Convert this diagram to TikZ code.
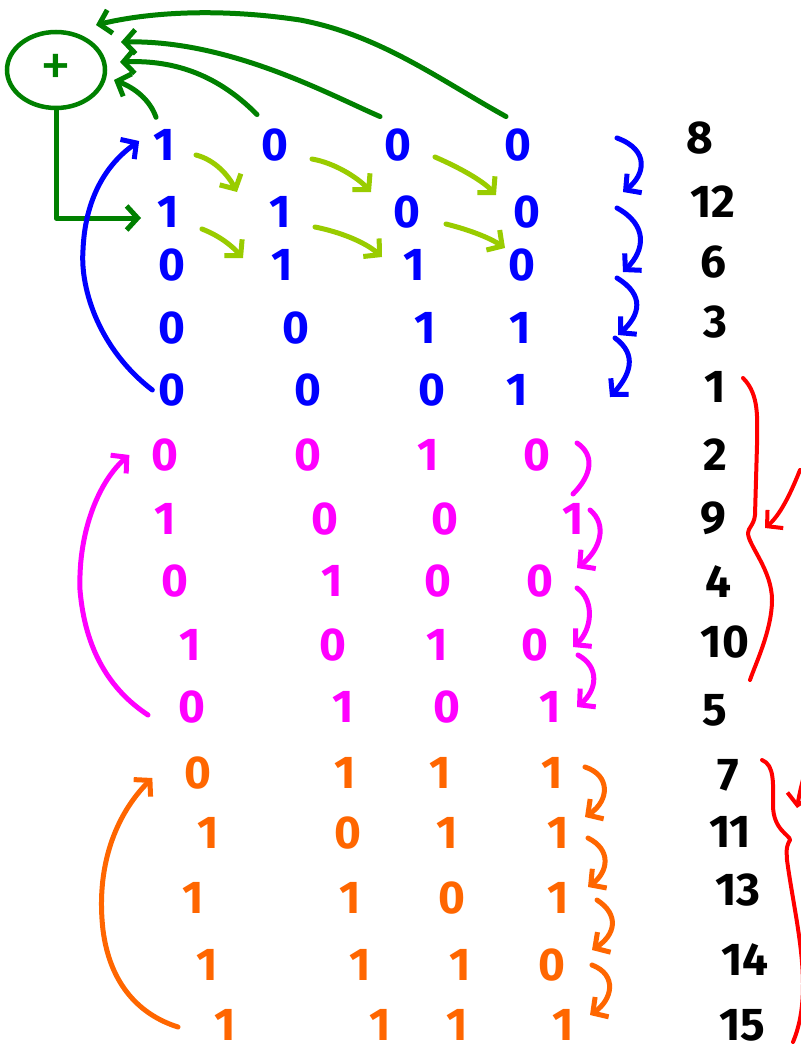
\documentclass[tikz,border=0pt]{standalone}
\usepackage{fontspec}
\newfontfamily\hand{Fira Sans}
\usetikzlibrary{arrows.meta,shapes.geometric}
\definecolor{cblue}{RGB}{0,0,255}
\definecolor{cgreen}{RGB}{0,128,0}
\definecolor{cyel}{RGB}{153,204,0}
\definecolor{cmag}{RGB}{255,0,255}
\definecolor{corange}{RGB}{255,102,0}
\definecolor{cred}{RGB}{255,0,0}
\tikzset{
  bit/.style={font=\hand\bfseries\fontsize{46}{46}\selectfont, inner sep=0pt},
  num/.style={bit, text=black},
  tip/.style={-{Straight Barb[length=11pt,width=24pt]}},
  con/.style={line width=5pt, line cap=round, line join=round},
}
\begin{document}
\begin{tikzpicture}[x=1pt,y=-1pt]
\useasboundingbox[fill=white] (0,0) rectangle (800,1051);

% XOR
\node[ellipse, draw=cgreen, line width=4.5pt, minimum width=98pt, minimum height=76pt, inner sep=0pt,
      font=\hand\fontsize{62}{62}\selectfont, text=cgreen] (xor) at (56,70) {+};

% blue rows
\foreach \r/\y/\a/\b/\c/\d/\xa/\xb/\xc/\xd in {
  1/145/1/0/0/0/164/275/398/518,
  2/212/1/1/0/0/168/280/407/527,
  3/265/0/1/1/0/172/282/414/522,
  4/328/0/0/1/1/172/296/425/520,
  5/390/0/0/0/1/172/308/432/517}{
  \node[bit,text=cblue] (d\r1) at (\xa,\y) {\a};
  \node[bit,text=cblue] (d\r2) at (\xb,\y) {\b};
  \node[bit,text=cblue] (d\r3) at (\xc,\y) {\c};
  \node[bit,text=cblue] (d\r4) at (\xd,\y) {\d};
}
% magenta rows
\foreach \r/\y/\a/\b/\c/\d/\xa/\xb/\xc/\xd in {
  6/455/0/0/1/0/165/308/428/537,
  7/519/1/0/0/1/165/325/445/573,
  8/581/0/1/0/0/175/332/438/540,
  9/645/1/0/1/0/190/333/437/535,
  10/707/0/1/0/1/192/343/447/550}{
  \node[bit,text=cmag] (d\r1) at (\xa,\y) {\a};
  \node[bit,text=cmag] (d\r2) at (\xb,\y) {\b};
  \node[bit,text=cmag] (d\r3) at (\xc,\y) {\c};
  \node[bit,text=cmag] (d\r4) at (\xd,\y) {\d};
}
% orange rows
\foreach \r/\y/\a/\b/\c/\d/\xa/\xb/\xc/\xd in {
  11/773/0/1/1/1/198/345/440/552,
  12/833/1/0/1/1/208/348/447/558,
  13/898/1/1/0/1/193/350/452/558,
  14/965/1/1/1/0/207/360/460/552,
  15/1025/1/1/1/1/225/380/457/563}{
  \node[bit,text=corange] (d\r1) at (\xa,\y) {\a};
  \node[bit,text=corange] (d\r2) at (\xb,\y) {\b};
  \node[bit,text=corange] (d\r3) at (\xc,\y) {\c};
  \node[bit,text=corange] (d\r4) at (\xd,\y) {\d};
}
% state numbers
\foreach \r/\x/\y/\t in {1/700/138/8, 2/713/202/12, 3/713/262/6, 4/715/322/3, 5/715/387/1,
  6/715/455/2, 7/713/518/9, 8/718/582/4, 9/725/642/10, 10/715/710/5,
  11/728/775/7, 12/730/832/11, 13/738/890/13, 14/745/960/14, 15/742/1025/15}{
  \node[num] (n\r) at (\x,\y) {\t};
}

% green feedback taps
\coordinate (t1) at (114,80);
\coordinate (t2) at (120,62);
\coordinate (t3) at (121,42);
\coordinate (t4) at (96,25);
\coordinate (fb) at (141,218);
\begin{scope}[con, draw=cgreen]
\draw[tip] ([xshift=-8pt,yshift=12pt]d11.north) .. controls (150,100) and (135,88) .. (t1);
\draw[tip] ([xshift=-18pt,yshift=14pt]d12.north) .. controls (215,72) and (170,60) .. (t2);
\draw[tip] ([xshift=-18pt,yshift=12pt]d13.north) .. controls (330,95) and (230,40) .. (t3);
\draw[tip] ([xshift=-12pt,yshift=12pt]d14.north) .. controls (440,80) and (380,35) .. (300,20)
      .. controls (220,8) and (150,12) .. (t4);
\draw[tip] (xor.south) |- (fb);
\end{scope}

% yellow-green shifts
\begin{scope}[con, draw=cyel]
\draw[tip] (196,155) .. controls (215,160) and (228,175) .. (237,192);
\draw[tip] (312,159) .. controls (335,163) and (358,178) .. (371,192);
\draw[tip] (435,157) .. controls (458,167) and (482,180) .. (496,195);
\draw[tip] (202,229) .. controls (220,236) and (232,246) .. (243,258);
\draw[tip] (315,227) .. controls (340,232) and (365,242) .. (382,257);
\draw[tip] (446,224) .. controls (470,230) and (490,238) .. (505,248);
\end{scope}

% blue
\begin{scope}[con, draw=cblue]
\draw[tip] ([xshift=-6pt]d51.west) .. controls (100,350) and (80,290) .. (83,250)
      .. controls (85,200) and (105,165) .. ([xshift=-14pt,yshift=4pt]d11.west);
\draw[tip] (617,138) .. controls (650,150) and (645,175) .. (623,192);
\draw[tip] (617,208) .. controls (648,225) and (645,250) .. (623,272);
\draw[tip] (617,278) .. controls (645,295) and (640,315) .. (618,335);
\draw[tip] (615,338) .. controls (638,355) and (630,375) .. (610,397);
\end{scope}

% magenta
\begin{scope}[con, draw=cmag]
\draw[tip] (148,715) .. controls (110,690) and (85,650) .. (80,590)
      .. controls (78,530) and (100,480) .. ([xshift=-22pt]d61.west);
\draw (577,443) .. controls (595,455) and (592,475) .. (573,494);
\draw[tip] (590,510) .. controls (608,525) and (600,550) .. (577,568);
\draw[tip] (577,588) .. controls (595,600) and (592,630) .. (573,647);
\draw[tip] (578,655) .. controls (600,667) and (597,690) .. (577,707);
\end{scope}

% orange
\begin{scope}[con, draw=corange]
\draw[tip] (178,1027) .. controls (140,1015) and (110,985) .. (103,930)
      .. controls (95,860) and (120,810) .. ([xshift=-32pt,yshift=-5pt]d111.west);
\draw[tip] (585,767) .. controls (610,775) and (610,800) .. (585,817);
\draw[tip] (588,838) .. controls (612,850) and (608,872) .. (588,887);
\draw[tip] (597,900) .. controls (620,915) and (615,935) .. (592,950);
\draw[tip] (592,965) .. controls (618,975) and (612,1000) .. (590,1015);
\end{scope}

% red braces
\begin{scope}[con, line width=4pt, draw=cred]
\draw (743,378) .. controls (760,395) and (757,420) .. (757,445) -- (755,515)
      .. controls (754,525) and (748,528) .. (748,533)
      .. controls (748,545) and (772,570) .. (772,600)
      .. controls (772,630) and (755,665) .. (750,680);
\draw[tip] (800,470) .. controls (790,495) and (780,515) .. (765,528);
\draw (762,760) .. controls (775,765) and (773,785) .. (773,805)
      .. controls (773,830) and (790,835) .. (790,840)
      .. controls (785,848) and (787,855) .. (787,860)
      .. controls (795,920) and (815,990) .. (793,1042);
\draw[tip] (812,750) .. controls (805,770) and (800,790) .. (797,808);
\end{scope}
\end{tikzpicture}
\end{document}
